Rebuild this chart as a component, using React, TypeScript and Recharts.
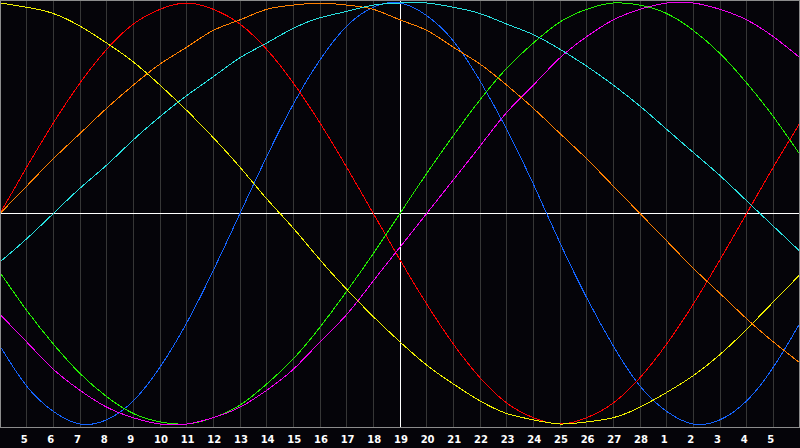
import React from 'react';
import { ComposedChart, Line, XAxis, YAxis, CartesianGrid, ReferenceLine } from 'recharts';

// day of month under each column, first and last are off the labelled range
const dayLabels = [
  '4', '5', '6', '7', '8', '9', '10', '11', '12', '13', '14', '15', '16', '17', '18', '19',
  '20', '21', '22', '23', '24', '25', '26', '27', '28', '1', '2', '3', '4', '5', '6',
];

const physical = [-63, -82, -94, -100, -98, -89, -73, -52, -27, 0, 27, 52, 73, 89, 98, 100, 94, 82, 63, 40, 14, -14, -40, -63, -82, -94, -100, -98, -89, -73, -52];
const emotional = [0, 22, 43, 62, 78, 90, 97, 100, 97, 90, 78, 62, 43, 22, 0, -22, -43, -62, -78, -90, -97, -100, -97, -90, -78, -62, -43, -22, 0, 22, 43];
const intellectual = [-28, -46, -62, -76, -87, -95, -99, -100, -97, -91, -81, -69, -54, -37, -19, 0, 19, 37, 54, 69, 81, 91, 97, 100, 99, 95, 87, 76, 62, 46, 28];
const intuitive = [-48, -61, -74, -84, -92, -97, -100, -100, -97, -92, -84, -74, -61, -48, -32, -16, 0, 16, 32, 48, 61, 74, 84, 92, 97, 100, 100, 97, 92, 84, 74];
const aesthetic = [100, 98, 95, 89, 81, 72, 61, 49, 36, 22, 7, -7, -22, -36, -49, -61, -72, -81, -89, -95, -98, -100, -99, -97, -92, -85, -77, -67, -55, -42, -29];
const awareness = [0, 13, 26, 38, 50, 61, 71, 79, 87, 92, 97, 99, 100, 99, 97, 92, 87, 79, 71, 61, 50, 38, 26, 13, 0, -13, -26, -38, -50, -61, -71];
const spiritual = [-23, -12, 0, 12, 23, 35, 46, 56, 65, 74, 81, 88, 93, 96, 99, 100, 100, 98, 95, 90, 85, 78, 70, 61, 51, 40, 29, 18, 6, -6, -18];

const todayIndex = 15;

const series = [
  { key: 'physical', color: '#1464ff' },
  { key: 'emotional', color: '#ff0000' },
  { key: 'intellectual', color: '#22f000' },
  { key: 'intuitive', color: '#f000f0' },
  { key: 'aesthetic', color: '#f0f000' },
  { key: 'awareness', color: '#ff8000' },
  { key: 'spiritual', color: '#28e0e0' },
];

const data = dayLabels.map((day, i) => ({
  i,
  day,
  physical: physical[i],
  emotional: emotional[i],
  intellectual: intellectual[i],
  intuitive: intuitive[i],
  aesthetic: aesthetic[i],
  awareness: awareness[i],
  spiritual: spiritual[i],
}));

const ticks = data.slice(1, data.length - 1).map(d => d.i);

// labels sit left-aligned just before their grid line
const DayTick = (props: any) => {
  const { x, payload } = props;
  return (
    <text
      x={x - 6}
      y={442.5}
      textAnchor="start"
      fill="#ffffff"
      fontFamily="'DejaVu Sans', Verdana, sans-serif"
      fontWeight="bold"
      fontSize={10}
    >
      {dayLabels[payload.value]}
    </text>
  );
};

export default function App() {
  return (
    <div style={{ position: 'relative', width: 800, height: 448, background: '#050409' }}>
      <style>{'body{margin:0}'}</style>
      <ComposedChart width={800} height={448} data={data} margin={{ top: 0, right: 0, bottom: 0, left: 0 }}>
        <CartesianGrid horizontal={false} stroke="#363636" shapeRendering="crispEdges" />
        <XAxis
          dataKey="i"
          type="number"
          domain={[0, 30]}
          ticks={ticks}
          interval={0}
          tickLine={false}
          axisLine={false}
          height={20}
          tick={<DayTick />}
        />
        <YAxis hide type="number" domain={[-101.9, 101.43]} allowDataOverflow />
        <ReferenceLine y={0} stroke="#ffffff" shapeRendering="crispEdges" />
        <ReferenceLine x={todayIndex} stroke="#ffffff" shapeRendering="crispEdges" />
        {series.map(s => (
          <Line
            key={s.key}
            dataKey={s.key}
            type="natural"
            stroke={s.color}
            strokeWidth={1}
            dot={false}
            activeDot={false}
            isAnimationActive={false}
            shapeRendering="crispEdges"
          />
        ))}
      </ComposedChart>
      <div
        style={{
          position: 'absolute',
          left: 0,
          top: 0,
          width: 800,
          height: 428,
          border: '1px solid #8c8c8c',
          boxSizing: 'border-box',
          pointerEvents: 'none',
        }}
      />
    </div>
  );
}
